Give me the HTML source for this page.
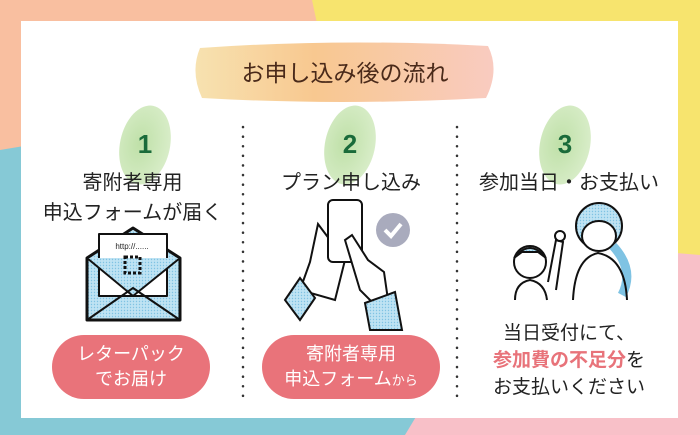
<!DOCTYPE html>
<html><head><meta charset="utf-8"><style>
body{margin:0;width:700px;height:435px;overflow:hidden;font-family:"Liberation Sans","Noto Sans CJK JP",sans-serif;}
.t{position:absolute;white-space:nowrap;text-align:center;}
</style></head><body>
<div style="position:relative;width:700px;height:435px;">
<svg width="700" height="435" style="position:absolute;left:0;top:0">
<defs>
<pattern id="dot" width="3" height="3" patternUnits="userSpaceOnUse"><rect width="3" height="3" fill="#bfe3f3"/><circle cx="1.5" cy="1.5" r="0.7" fill="#7fc3e3"/></pattern>
<linearGradient id="tg" x1="0" x2="1"><stop offset="0" stop-color="#f7e2b0"/><stop offset="0.4" stop-color="#f8c890"/><stop offset="1" stop-color="#f9cbc0"/></linearGradient>
<radialGradient id="gg" cx="0.4" cy="0.5" r="0.6"><stop offset="0" stop-color="#bfe0a8"/><stop offset="1" stop-color="#d8edc8"/></radialGradient>
</defs>
<rect width="700" height="435" fill="#f9bfa0"/>
<polygon points="312,0 700,0 700,262 640,435 405,435" fill="#f7e46e"/>
<polygon points="0,150 0,435 405,435 420,415 60,140" fill="#86c9d6"/>
<polygon points="700,255 700,435 405,435 420,410 640,250" fill="#f8c0c8"/>
<rect x="21" y="21" width="657" height="397" fill="#fff"/>
<path d="M200,48 Q340,38 488,46 Q500,70 486,98 Q340,106 202,98 Q190,72 200,48Z" fill="url(#tg)"/>
<ellipse cx="145" cy="145" rx="25" ry="40" transform="rotate(12 145 145)" fill="url(#gg)"/>
<ellipse cx="350" cy="145" rx="25" ry="40" transform="rotate(12 350 145)" fill="url(#gg)"/>
<ellipse cx="565" cy="145" rx="25" ry="40" transform="rotate(12 565 145)" fill="url(#gg)"/>
<line x1="243" y1="127" x2="243" y2="405" stroke="#333" stroke-width="2.5" stroke-dasharray="0.1 9.5" stroke-linecap="round"/>
<line x1="457" y1="127" x2="457" y2="405" stroke="#333" stroke-width="2.5" stroke-dasharray="0.1 9.5" stroke-linecap="round"/>
<!-- envelope -->
<g stroke="#111" stroke-width="3" stroke-linejoin="round">
<path d="M87,258 L133,228 L180,258 L180,320 L87,320Z" fill="url(#dot)"/>
<rect x="99" y="234" width="68" height="62" fill="#fff" stroke-width="2"/>
<path d="M87,258 L133,296 L180,258" fill="url(#dot)" stroke-width="2"/>
<path d="M87,320 L133,288 L180,320" fill="none" stroke-width="2"/>
</g>
<rect x="125" y="257" width="15" height="16" fill="none" stroke="#111" stroke-width="3" stroke-dasharray="3 2"/>
<!-- phone -->
<g stroke="#111" stroke-width="2" fill="#fff">
<path d="M318,224 L310,262 L300,290 L335,300 L345,260Z" />
<rect x="328" y="200" width="34" height="62" rx="5"/>
<path d="M345,240 L360,290 L375,305 L388,300 L384,272 L368,260 L352,235Z"/>
<path d="M285,300 L300,278 L315,298 L300,320Z" fill="url(#dot)"/>
<path d="M365,303 L395,292 L402,330 L370,330Z" fill="url(#dot)"/>
</g>
<circle cx="393" cy="230" r="17" fill="#a9abbd"/>
<path d="M385,230 L391,236 L401,224" stroke="#fff" stroke-width="4" fill="none"/>
<!-- people -->
<g stroke="#111" stroke-width="2">
<circle cx="599" cy="226" r="23" fill="url(#dot)"/>
<ellipse cx="599" cy="236" rx="17" ry="15" fill="#fff"/>
<path d="M613,246 Q635,270 622,295" stroke="#7fc3e3" stroke-width="9" fill="none"/>
<path d="M573,300 Q575,258 598,253 Q625,258 627,300" fill="none"/>
<circle cx="530" cy="262" r="16" fill="#fff"/>
<path d="M514,258 Q530,238 546,258 L538,252 L522,252Z" fill="url(#dot)"/>
<path d="M515,300 Q515,283 530,280 Q545,283 547,300" fill="none"/>
<path d="M548,282 L556,240 L563,242 L556,290" fill="#fff"/>
<circle cx="560" cy="236" r="5" fill="#fff"/>
</g>
<rect x="52" y="335" width="158" height="64" rx="32" fill="#e9737a"/>
<rect x="262" y="335" width="178" height="64" rx="32" fill="#e9737a"/>
</svg>
<div class="t" style="left:0;width:690px;top:54px;font-size:23px;color:#4a2a1a;">お申し込み後の流れ</div>
<div class="t" style="left:120px;width:50px;top:129px;font-size:26px;font-weight:bold;color:#1a6b3a;">1</div>
<div class="t" style="left:325px;width:50px;top:129px;font-size:26px;font-weight:bold;color:#1a6b3a;">2</div>
<div class="t" style="left:540px;width:50px;top:129px;font-size:26px;font-weight:bold;color:#1a6b3a;">3</div>
<div class="t" style="left:20px;width:225px;top:168px;font-size:20px;line-height:30px;color:#222;">寄附者専用<br>申込フォームが届く</div>
<div class="t" style="left:245px;width:212px;top:168px;font-size:20px;line-height:30px;color:#222;">プラン申し込み</div>
<div class="t" style="left:459px;width:220px;top:168px;font-size:20px;line-height:30px;color:#222;">参加当日・お支払い</div>
<div class="t" style="left:132px;top:242px;font-size:8px;color:#222;transform:translateX(-50%)">http://......</div>
<div class="t" style="left:52px;width:158px;top:342px;font-size:18px;line-height:25px;color:#fff;">レターパック<br>でお届け</div>
<div class="t" style="left:262px;width:178px;top:342px;font-size:18px;line-height:25px;color:#fff;">寄附者専用<br>申込フォーム<span style="font-size:13px">から</span></div>
<div class="t" style="left:459px;width:220px;top:320px;font-size:19px;line-height:27px;color:#222;">当日受付にて、<br><span style="color:#e8737a;font-weight:bold">参加費の不足分</span>を<br>お支払いください</div>
</div>
</body></html>
